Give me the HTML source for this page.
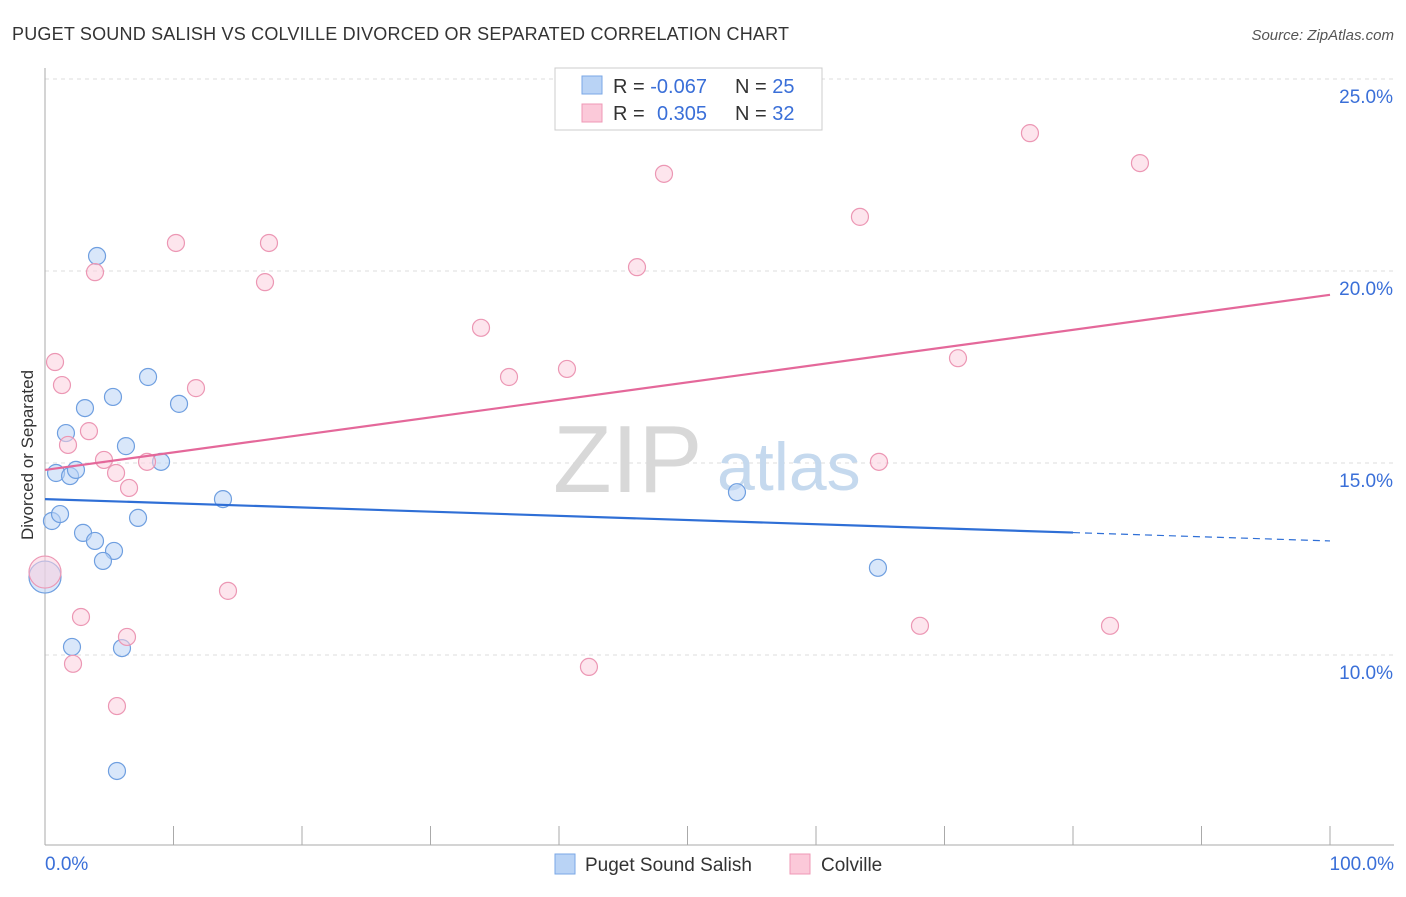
<!DOCTYPE html>
<html><head><meta charset="utf-8"><style>
body{margin:0;background:#fff;font-family:"Liberation Sans",sans-serif;}
svg text{font-family:"Liberation Sans",sans-serif;}
</style></head><body>
<svg id="chart" width="1406" height="892" xmlns="http://www.w3.org/2000/svg">
<text x="12" y="40" font-size="18" fill="#333" textLength="777">PUGET SOUND SALISH VS COLVILLE DIVORCED OR SEPARATED CORRELATION CHART</text>
<text x="1394" y="40" font-size="15" fill="#555" text-anchor="end" font-style="italic">Source: ZipAtlas.com</text>
<text x="33" y="455" font-size="17" fill="#333" text-anchor="middle" transform="rotate(-90 33 455)">Divorced or Separated</text>
<g id="grid"></g>
<g id="axes"></g>
<text x="553" y="492" font-size="96" fill="#d8d8d8" font-family="Liberation Serif">ZIP</text>
<text x="717" y="490" font-size="68" fill="#c5d9ee">atlas</text>
<g id="marks"></g>
<g>
<rect x="555" y="68" width="267" height="62" fill="#fff" stroke="#ccc"/>
<rect x="582" y="76" width="20" height="18" fill="#b9d3f5" stroke="#7aa7e6"/>
<rect x="582" y="104" width="20" height="18" fill="#fbc9d9" stroke="#ef98b6"/>
<text x="613" y="93" font-size="20" fill="#333">R = <tspan fill="#3a6fd8">-0.067</tspan><tspan x="735">N = </tspan><tspan fill="#3a6fd8">25</tspan></text>
<text x="613" y="120" font-size="20" fill="#333">R = <tspan x="657" fill="#3a6fd8">0.305</tspan><tspan x="735">N = </tspan><tspan fill="#3a6fd8">32</tspan></text>
</g>
<g>
<rect x="555" y="854" width="20" height="20" fill="#b9d3f5" stroke="#7aa7e6"/>
<text x="585" y="871" font-size="19" fill="#333">Puget Sound Salish</text>
<rect x="790" y="854" width="20" height="20" fill="#fbc9d9" stroke="#ef98b6"/>
<text x="821" y="871" font-size="19" fill="#333">Colville</text>
</g>
</svg>
<script>
const yTicks=[10,15,20,25];
const yTickLabels=["10.0%","15.0%","20.0%","25.0%"];
const xEndLabels=["0.0%","100.0%"];
const blueX=[4.05,8.02,5.29,3.11,10.43,1.63,6.30,0.86,1.95,2.41,9.03,13.85,0.54,1.17,7.24,2.96,3.89,5.37,4.51,0,2.10,5.99,5.60,53.85,64.82];
const blueY=[20.39,17.24,16.72,16.43,16.54,15.78,15.44,14.74,14.66,14.82,15.03,14.06,13.49,13.67,13.57,13.18,12.97,12.71,12.45,12.03,10.21,10.18,6.98,14.24,12.27];
const pinkX=[0.78,1.32,3.42,1.79,4.59,5.53,6.54,7.94,3.89,10.19,17.43,17.12,11.75,14.24,2.80,6.38,2.18,5.60,33.93,36.11,40.62,42.33,46.07,48.17,63.42,64.90,68.09,71.05,76.65,82.88,85.21,0];
const pinkY=[17.63,17.03,15.83,15.47,15.08,14.74,14.35,15.03,19.97,20.73,20.73,19.71,16.95,11.67,10.99,10.47,9.77,8.67,18.52,17.24,17.45,9.69,20.10,22.53,21.41,15.03,10.76,17.73,23.59,10.76,22.81,12.16];
const blueTrend=[14.06,12.97];
const pinkTrend=[14.82,19.38];
const blueSolidEnd=80;
const NS="http://www.w3.org/2000/svg";
const sx=v=>45+v*12.85;
const sy=v=>655-(v-10)*38.4;
function mk(tag,attrs,parent){const e=document.createElementNS(NS,tag);for(const k in attrs)e.setAttribute(k,attrs[k]);document.getElementById(parent).appendChild(e);return e;}
yTicks.forEach((t,i)=>{
 const l=mk('line',{x1:45,x2:1394,y1:sy(t),y2:sy(t),stroke:'#ddd','stroke-dasharray':'4,4'},'grid');
 
 
 const tx=mk('text',{x:1393,y:sy(t)+24,'font-size':19,fill:'#3a6fd8','text-anchor':'end'},'grid');
 tx.textContent=yTickLabels[i];
 
 
});
const ax=mk('line',{x1:45,x2:45,y1:68,y2:845,stroke:'#aaa'},'axes');


const bx=mk('line',{x1:45,x2:1394,y1:845,y2:845,stroke:'#aaa'},'axes');


for(let i=0;i<=10;i++){
 const t=mk('line',{x1:sx(i*10),x2:sx(i*10),y1:826,y2:845,stroke:'#aaa'},'axes');
 
 
}
[[45,'start',0],[1394,'end',1]].forEach(([x,a,i])=>{
 const t=mk('text',{x:x,y:870,'font-size':19,fill:'#3a6fd8','text-anchor':a},'axes');
 t.textContent=xEndLabels[i];
 
 
});
function pt(x,y,fill,stroke){
 const big=x===0;
 const c=mk('circle',{cx:sx(x),cy:sy(y),r:big?16:8.5,fill:fill,'fill-opacity':0.55,stroke:stroke,'stroke-width':1.2},'marks');
 return c;
}
blueX.forEach((x,i)=>{const c=pt(x,blueY[i],'#b9d3f5','#6f9fe0');
 
 });
pinkX.forEach((x,i)=>{const c=pt(x,pinkY[i],'#fbd0de','#ec97b4');
 
 });
const by=x=>blueTrend[0]+(blueTrend[1]-blueTrend[0])*x/100;
const l1=mk('line',{x1:sx(0),y1:sy(by(0)),x2:sx(blueSolidEnd),y2:sy(by(blueSolidEnd)),stroke:'#2f6fd6','stroke-width':2.2},'marks');


const l2=mk('line',{x1:sx(blueSolidEnd),y1:sy(by(blueSolidEnd)),x2:sx(100),y2:sy(by(100)),stroke:'#2f6fd6','stroke-width':1.2,'stroke-dasharray':'7,5'},'marks');


const l3=mk('line',{x1:sx(0),y1:sy(pinkTrend[0]),x2:sx(100),y2:sy(pinkTrend[1]),stroke:'#e4689a','stroke-width':2.2},'marks');


</script>
</body></html>
